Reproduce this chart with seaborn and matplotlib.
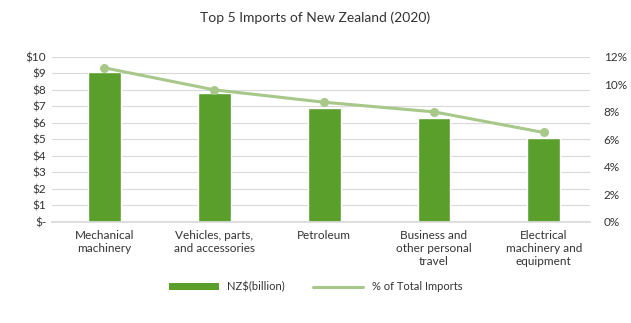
import matplotlib
matplotlib.use("Agg")
import matplotlib.pyplot as plt
import seaborn as sns
import pandas as pd
from matplotlib.lines import Line2D
from matplotlib.patches import Patch

categories = [
    "Mechanical\nmachinery",
    "Vehicles, parts,\nand accessories",
    "Petroleum",
    "Business and\nother personal\ntravel",
    "Electrical\nmachinery and\nequipment",
]
nzd_billion = [9.1, 7.8, 6.9, 6.3, 5.1]
pct_total = [11.2, 9.6, 8.7, 8.0, 6.5]
left_ticks = ["$-", "$1", "$2", "$3", "$4", "$5", "$6", "$7", "$8", "$9", "$10"]
right_ticks = ["0%", "2%", "4%", "6%", "8%", "10%", "12%"]

df = pd.DataFrame({"category": categories, "value": nzd_billion, "pct": pct_total})

sns.set_theme(style="white")
plt.rcParams["font.family"] = ["Lato", "DejaVu Sans"]

bar_color = "#5a9e2c"
line_color = "#a8c88a"
text_color = "#333333"

fig = plt.figure(figsize=(6.31, 3.23), dpi=100)
ax = fig.add_axes([0.082, 0.313, 0.853, 0.511])

sns.barplot(data=df, x="category", y="value", color=bar_color, width=0.3,
            saturation=1, ax=ax, zorder=2)
ax.set_ylim(0, 10)
ax.set_yticks(range(11))
ax.set_yticklabels(left_ticks)
ax.yaxis.grid(True, color="#d9d9d9", linewidth=0.8)
ax.set_axisbelow(True)
ax.set_xlabel("")
ax.set_ylabel("")
ax.tick_params(axis="both", length=0, labelsize=8.5, colors=text_color)
ax.tick_params(axis="y", pad=4)
ax.tick_params(axis="x", pad=6)
for s in ax.spines.values():
    s.set_visible(False)
ax.spines["bottom"].set_visible(True)
ax.spines["bottom"].set_color("#d9d9d9")

ax2 = ax.twinx()
sns.lineplot(data=df, x="category", y="pct", color=line_color, linewidth=2.2,
             marker="o", markersize=6.5, markeredgewidth=0, ax=ax2, sort=False)
ax2.set_ylim(0, 12)
ax2.set_yticks(range(0, 13, 2))
ax2.set_yticklabels(right_ticks)
ax2.set_ylabel("")
ax2.tick_params(axis="y", length=0, labelsize=8.5, colors=text_color, pad=10)
for s in ax2.spines.values():
    s.set_visible(False)
ax.set_xlim(-0.48, 4.42)

# centred multi-line category labels
ax.set_xticks(range(len(categories)))
ax.set_xticklabels(categories, multialignment="center", fontsize=8.5,
                   color=text_color)

fig.text(0.5, 0.945, "Top 5 Imports of New Zealand (2020)", ha="center",
         va="center", fontsize=10, color=text_color)

handles = [
    Patch(facecolor=bar_color, edgecolor="none", label="NZ$(billion)"),
    Line2D([0], [0], color=line_color, linewidth=2.2, label="% of Total Imports"),
]
fig.legend(handles=handles, loc="center", bbox_to_anchor=(0.5, 0.112), ncol=2,
           frameon=False, fontsize=8, handlelength=4.5, handleheight=0.5,
           columnspacing=2.5, labelcolor=text_color)

fig.savefig("out.png", dpi=100, facecolor="white")
